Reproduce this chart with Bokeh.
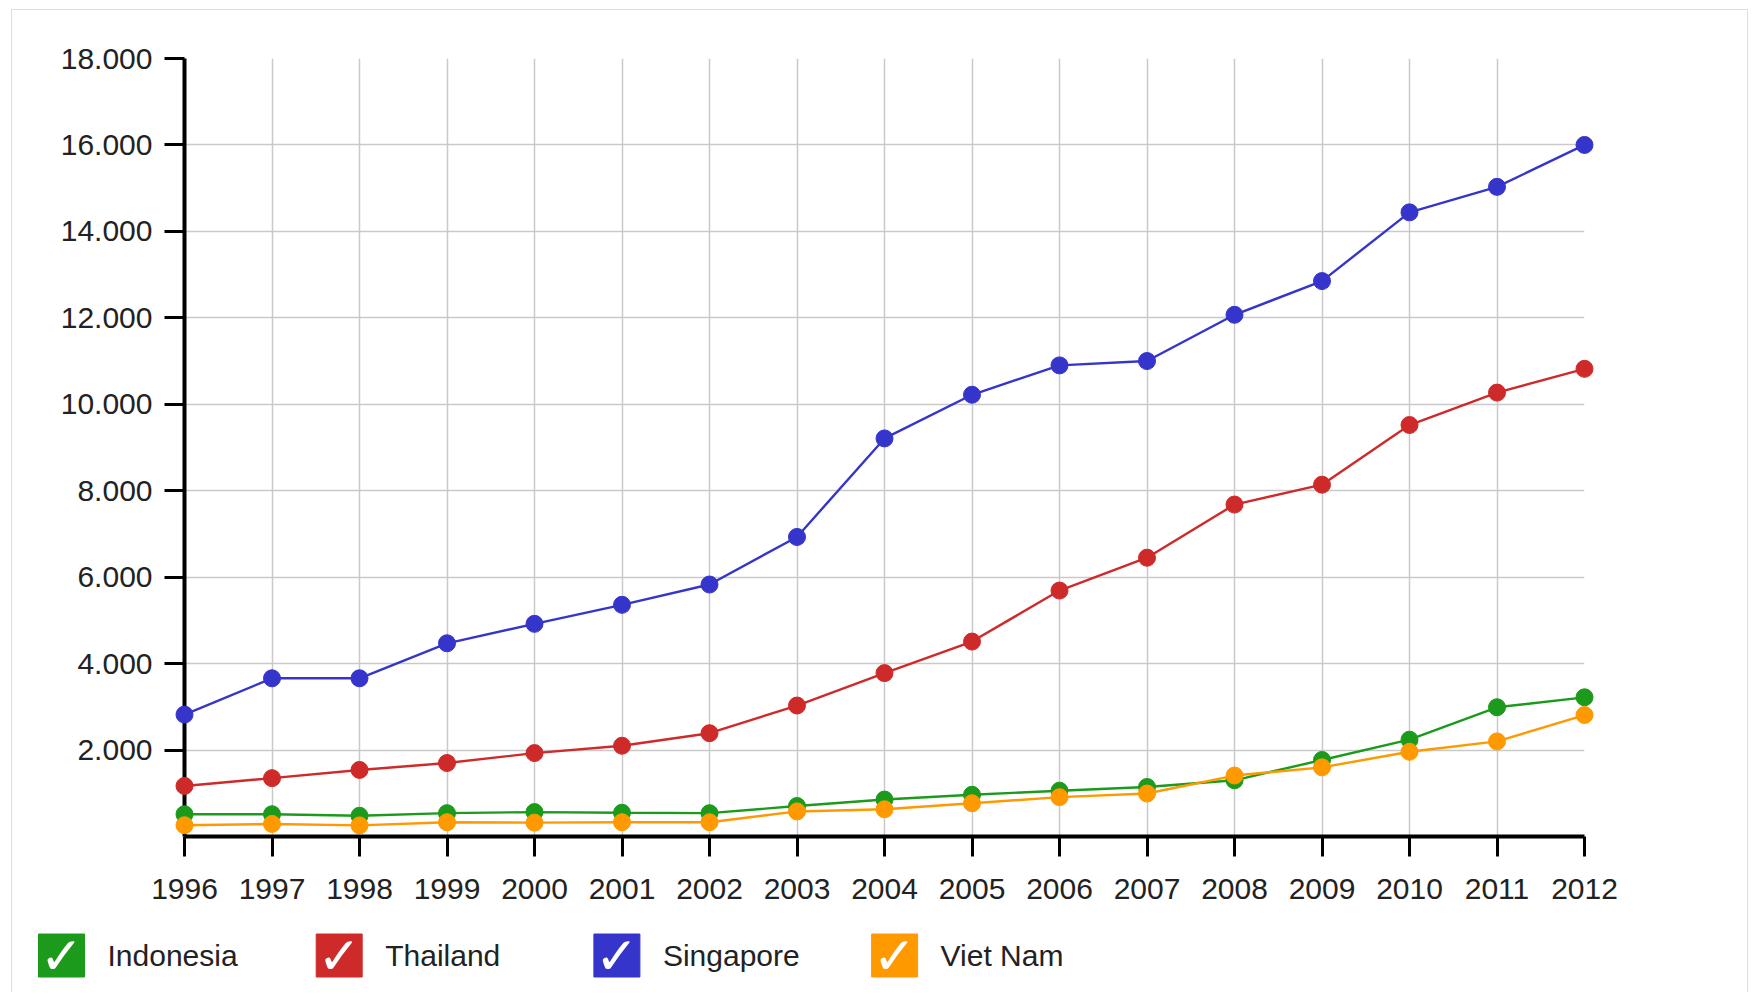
from bokeh.plotting import figure
from bokeh.layouts import column
from bokeh.models import Range1d, FixedTicker, ColumnDataSource
from bokeh.core.properties import value
from bokeh.embed import file_html
from bokeh.resources import INLINE

# ---------------- data ----------------
years = [1996, 1997, 1998, 1999, 2000, 2001, 2002, 2003, 2004,
         2005, 2006, 2007, 2008, 2009, 2010, 2011, 2012]
indonesia = [515, 515, 480, 540, 565, 550, 540, 705, 855,
             965, 1060, 1145, 1300, 1770, 2240, 2990, 3220]
thailand = [1170, 1350, 1540, 1700, 1930, 2100, 2390, 3030, 3780,
            4510, 5690, 6450, 7680, 8140, 9520, 10270, 10820]
singapore = [2820, 3660, 3660, 4470, 4920, 5360, 5830, 6930, 9210,
             10220, 10900, 11000, 12070, 12850, 14440, 15030, 16000]
viet_nam = [260, 290, 257, 330, 320, 330, 330, 580, 630,
            770, 910, 995, 1410, 1600, 1960, 2200, 2810]

series_names = ["Indonesia", "Thailand", "Singapore", "Viet Nam"]
series_values = [indonesia, thailand, singapore, viet_nam]
series_colors = ["#1c9a1c", "#cf2a2a", "#3535cc", "#ff9900"]

y_ticks = [2000, 4000, 6000, 8000, 10000, 12000, 14000, 16000, 18000]
y_tick_labels = ["2.000", "4.000", "6.000", "8.000", "10.000",
                 "12.000", "14.000", "16.000", "18.000"]

FONT = "Liberation Sans"
TXT = "#222222"
FS = "30px"

# ---------------- layout geometry (pixels) ----------------
W = 1735
BL, BR = 172, 163          # left / right borders around the frame
OFF_X = 11 + 1 + BL        # page x of the frame's left edge

# ---------------- main chart ----------------
p = figure(width=W, height=902, output_backend="svg", toolbar_location=None,
           x_range=Range1d(years[0], years[-1]), y_range=Range1d(0, 18000),
           min_border_left=BL, min_border_right=BR,
           min_border_top=48, min_border_bottom=76)
p.outline_line_color = None
p.background_fill_color = "white"
p.border_fill_color = "white"

p.xaxis.ticker = FixedTicker(ticks=years)
p.xaxis.major_label_overrides = {y: str(y) for y in years}
p.yaxis.ticker = FixedTicker(ticks=y_ticks)
p.yaxis.major_label_overrides = {t: l for t, l in zip(y_ticks, y_tick_labels)}

for ax in (p.xaxis, p.yaxis):
    ax.axis_line_color = "black"
    ax.axis_line_width = 4
    ax.major_tick_line_color = "black"
    ax.major_tick_line_width = 3
    ax.major_tick_out = 20
    ax.major_tick_in = 0
    ax.minor_tick_line_color = None
    ax.major_label_text_font = FONT
    ax.major_label_text_font_size = FS
    ax.major_label_text_color = TXT
p.xaxis.major_label_standoff = 22
p.yaxis.major_label_standoff = 12

p.xgrid.ticker = FixedTicker(ticks=years)
p.ygrid.ticker = FixedTicker(ticks=y_ticks)
for g in (p.xgrid, p.ygrid):
    g.grid_line_color = "#c9c9c9"
    g.grid_line_width = 1.5

for name, vals, col in zip(series_names, series_values, series_colors):
    src = ColumnDataSource(dict(x=years, y=vals))
    p.line("x", "y", source=src, line_color=col, line_width=2.4)
for name, vals, col in zip(series_names, series_values, series_colors):
    src = ColumnDataSource(dict(x=years, y=vals))
    p.scatter("x", "y", source=src, size=17, fill_color=col, line_color=col,
              level="overlay")

# ---------------- legend strip ----------------
LH = 80
leg = figure(width=W, height=LH, output_backend="svg", toolbar_location=None,
             x_axis_type=None, y_axis_type=None,
             x_range=Range1d(OFF_X, OFF_X + W - BL - BR), y_range=Range1d(0, LH),
             min_border_left=BL, min_border_right=BR,
             min_border_top=0, min_border_bottom=0)
leg.grid.visible = False
leg.outline_line_color = None
leg.border_fill_color = "white"

box_left = [38 + i * 277.7 for i in range(len(series_names))]
box_cx = [b + 23 for b in box_left]
text_x = [b + 69 for b in box_left]
ly = [37] * len(series_names)
lsrc = ColumnDataSource(dict(bx=box_cx, tx=text_x, y=ly, name=series_names,
                             color=series_colors, chk=["\u2713"] * len(series_names)))
leg.rect("bx", "y", width=46, height=43, source=lsrc, fill_color="color",
         line_color="color", level="overlay")
leg.text("bx", "y", text="chk", source=lsrc, text_color="white",
         text_font=value("DejaVu Sans"), text_font_size="52px",
         text_align="center", text_baseline="middle", level="overlay")
leg.text("tx", "y", text="name", source=lsrc, text_color=TXT,
         text_font=value(FONT), text_font_size=FS,
         text_align="left", text_baseline="middle", level="overlay")

layout = column(p, leg, spacing=0, margin=(9, 0, 0, 11),
                styles={"border-top": "1px solid #dedede",
                        "border-left": "1px solid #dedede",
                        "border-right": "1px solid #dedede"})

open("out.html", "w").write(file_html(layout, INLINE))
